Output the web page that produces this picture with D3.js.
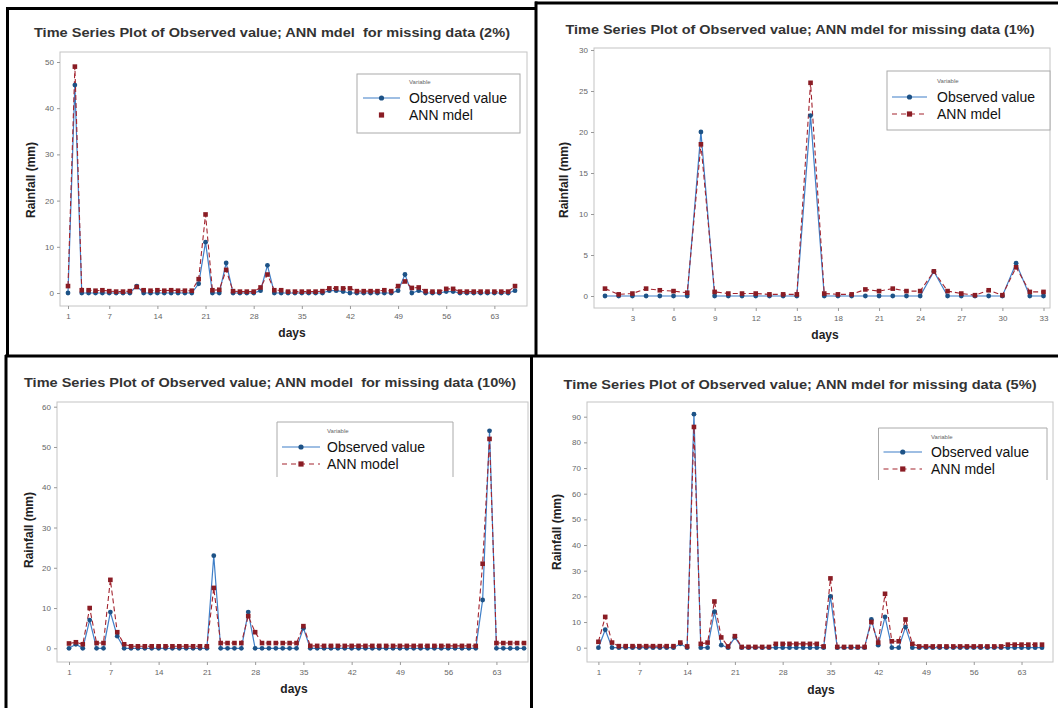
<!DOCTYPE html>
<html>
<head>
<meta charset="utf-8">
<script src="https://cdn.jsdelivr.net/npm/d3@7"></script>
<style>
  body { margin: 0; background: #fff; }
  svg { display: block; font-family: "Liberation Sans", Arial, sans-serif; }
</style>
</head>
<body>
<div id="chart"></div>
<script>
// rainfall (mm) per day
const obs2 = [0, 45, 0, 0, 0, 0, 0, 0, 0, 0, 1.5, 0, 0, 0, 0, 0, 0, 0, 0, 2,
    11, 0, 0, 6.5, 0, 0, 0, 0, 0.5, 6, 0, 0, 0, 0, 0, 0, 0, 0, 0.5, 0.5,
    0.3, 0, 0, 0, 0, 0, 0, 0, 0.5, 4, 0, 0.5, 0, 0, 0, 0.3, 0.3, 0, 0, 0,
    0, 0, 0, 0, 0, 0.5];
const ann2 = [1.5, 49, 0.6, 0.6, 0.5, 0.6, 0.4, 0.3, 0.3, 0.4, 1.3, 0.6, 0.5, 0.6, 0.5, 0.6, 0.5, 0.5, 0.5, 3,
    17, 0.6, 0.7, 5, 0.4, 0.3, 0.3, 0.3, 1.2, 4, 0.6, 0.6, 0.3, 0.3, 0.3, 0.3, 0.3, 0.4, 1, 1,
    1, 1, 0.4, 0.4, 0.4, 0.4, 0.6, 0.4, 1.5, 2.5, 1.1, 1.2, 0.4, 0.3, 0.3, 0.9, 0.9, 0.3, 0.3, 0.3,
    0.3, 0.3, 0.3, 0.3, 0.3, 1.5];

const obs1 = [0, 0, 0, 0, 0, 0, 0, 20, 0, 0, 0, 0, 0, 0, 0, 22, 0, 0, 0, 0,
    0, 0, 0, 0, 3, 0, 0, 0, 0, 0, 4, 0, 0];
const ann1 = [0.9, 0.2, 0.3, 0.9, 0.7, 0.6, 0.4, 18.5, 0.5, 0.3, 0.3, 0.3, 0.2, 0.2, 0.2, 26, 0.3, 0.2, 0.2, 0.8,
    0.6, 0.9, 0.6, 0.6, 3, 0.6, 0.3, 0.1, 0.7, 0.1, 3.5, 0.5, 0.5];

const obs10 = [0, 1, 0, 7, 0, 0, 9, 3, 0, 0, 0, 0, 0, 0, 0, 0, 0, 0, 0, 0,
    0, 23, 0, 0, 0, 0, 9, 0, 0, 0, 0, 0, 0, 0, 5, 0, 0, 0, 0, 0,
    0, 0, 0, 0, 0, 0, 0, 0, 0, 0, 0, 0, 0, 0, 0, 0, 0, 0, 0, 0,
    12, 54, 0, 0, 0, 0, 0];
const ann10 = [1.2, 1.5, 1, 10, 1.3, 1.3, 17, 4, 1, 0.5, 0.5, 0.5, 0.5, 0.5, 0.5, 0.5, 0.5, 0.5, 0.5, 0.5,
    0.5, 15, 1.3, 1.3, 1.3, 1.3, 8, 4, 1.3, 1.3, 1.3, 1.3, 1.3, 1.3, 5.5, 0.6, 0.6, 0.6, 0.6, 0.6,
    0.6, 0.6, 0.6, 0.6, 0.6, 0.6, 0.6, 0.6, 0.6, 0.6, 0.6, 0.6, 0.6, 0.6, 0.6, 0.6, 0.6, 0.6, 0.6, 0.6,
    21, 52, 1.3, 1.3, 1.3, 1.3, 1.3];

const obs5 = [0, 7, 0, 0, 0, 0, 0, 0, 0, 0, 0, 0, 1.5, 0, 91, 0, 0, 14, 1, 0,
    4, 0, 0, 0, 0, 0, 0, 0, 0, 0, 0, 0, 0, 0, 20, 0, 0, 0, 0, 0,
    11, 1, 12, 0, 0, 8, 0, 0, 0, 0, 0, 0, 0, 0, 0, 0, 0, 0, 0, 0,
    0, 0, 0, 0, 0, 0];
const ann5 = [2.3, 12, 2, 0.6, 0.6, 0.6, 0.6, 0.6, 0.6, 0.6, 0.6, 0.6, 2, 0.5, 86, 1.5, 2, 18, 4, 0.5,
    4.5, 0.3, 0.3, 0.3, 0.3, 0.3, 1.5, 1.5, 1.5, 1.5, 1.5, 1.5, 1.5, 0.5, 27, 0.3, 0.3, 0.3, 0.3, 0.3,
    10, 2, 21, 2.5, 2.5, 11, 1.5, 0.5, 0.5, 0.5, 0.5, 0.5, 0.5, 0.5, 0.5, 0.5, 0.5, 0.5, 0.5, 0.5,
    1.2, 1.2, 1.2, 1.2, 1.2, 1.2];

const dayTicksWeek = [1, 7, 14, 21, 28, 35, 42, 49, 56, 63];
const dayTicks3 = [3, 6, 9, 12, 15, 18, 21, 24, 27, 30, 33];
const rainTicks50 = [0, 10, 20, 30, 40, 50];
const rainTicks30 = [0, 5, 10, 15, 20, 25, 30];
const rainTicks60 = [0, 10, 20, 30, 40, 50, 60];
const rainTicks90 = [0, 10, 20, 30, 40, 50, 60, 70, 80, 90];

const seriesNames = ["Observed value", "ANN mdel"];

const OBS_LINE = "#3f7fc8", OBS_DOT = "#1d5286";
const ANN_LINE = "#a3242f", ANN_DOT = "#8a1c24";

const svg = d3.select("#chart").append("svg")
    .attr("width", 1058)
    .attr("height", 708);

svg.append("rect").attr("width", 1058).attr("height", 708).attr("fill", "#fff");

function panel(p) {
    const g = svg.append("g");
    const [fx0, fy0, fx1, fy1] = p.frame;

    const x = d3.scaleLinear().domain([1, p.obs.length]).range(p.xr);
    const y = d3.scaleLinear().domain([0, p.yTicks[p.yTicks.length - 1]]).range(p.yr);

    g.append("rect")
        .attr("x", fx0).attr("y", fy0)
        .attr("width", fx1 - fx0).attr("height", fy1 - fy0)
        .attr("fill", "none").attr("stroke", "#c4c4c4");

    const ya = g.append("g")
        .attr("transform", `translate(${fx0},0)`)
        .call(d3.axisLeft(y).tickValues(p.yTicks).tickSize(3).tickPadding(3));
    const xa = g.append("g")
        .attr("transform", `translate(0,${fy1})`)
        .call(d3.axisBottom(x).tickValues(p.xTicks).tickSize(3).tickPadding(4));
    [ya, xa].forEach(a => {
        a.select(".domain").remove();
        a.selectAll("line").attr("stroke", "#999");
        a.selectAll("text").attr("fill", "#666").style("font-size", "8px");
    });

    // title and axis names
    g.append("text")
        .attr("x", p.title[1]).attr("y", p.title[2])
        .attr("text-anchor", "middle")
        .attr("textLength", p.title[3]).attr("lengthAdjust", "spacingAndGlyphs")
        .style("white-space", "pre")
        .style("font-size", "13px").style("font-weight", "bold").attr("fill", "#333")
        .text(p.title[0]);
    g.append("text")
        .attr("transform", `translate(${p.ylab[0]},${p.ylab[1]}) rotate(-90)`)
        .attr("text-anchor", "middle")
        .style("font-size", "12px").style("font-weight", "bold").attr("fill", "#222")
        .text("Rainfall (mm)");
    g.append("text")
        .attr("x", p.xlab[0]).attr("y", p.xlab[1])
        .attr("text-anchor", "middle")
        .style("font-size", "12px").style("font-weight", "bold").attr("fill", "#222")
        .text("days");

    const line = d3.line().x((d, i) => x(i + 1)).y(d => y(d));

    g.append("path").datum(p.obs)
        .attr("d", line).attr("fill", "none")
        .attr("stroke", OBS_LINE).attr("stroke-width", 1.2);
    g.append("path").datum(p.ann)
        .attr("d", line).attr("fill", "none")
        .attr("stroke", ANN_LINE).attr("stroke-width", 1.1)
        .attr("stroke-dasharray", "5,3");

    g.append("g").selectAll("circle")
        .data(p.obs).join("circle")
        .attr("cx", (d, i) => x(i + 1)).attr("cy", d => y(d))
        .attr("r", 2.4).attr("fill", OBS_DOT);
    g.append("g").selectAll("rect")
        .data(p.ann).join("rect")
        .attr("x", (d, i) => x(i + 1) - 2.3).attr("y", d => y(d) - 2.3)
        .attr("width", 4.6).attr("height", 4.6).attr("fill", ANN_DOT);

    // legend
    const [lx0, ly0, lx1, ly1] = p.legend;
    const lg = g.append("g");
    if (p.legendOpen) {
        lg.append("path")
            .attr("d", `M${lx0},${ly1}V${ly0}H${lx1}V${ly1}`)
            .attr("fill", "#fff").attr("stroke", "#aaa");
    } else {
        lg.append("rect")
            .attr("x", lx0).attr("y", ly0).attr("width", lx1 - lx0).attr("height", ly1 - ly0)
            .attr("fill", "#fff").attr("stroke", "#aaa");
    }
    lg.append("text")
        .attr("x", p.legText).attr("y", p.legRows[0] + 2)
        .style("font-size", "6px").attr("fill", "#666")
        .text("Variable");
    const [sx0, sx1] = p.legSym, sxm = (sx0 + sx1) / 2;
    // observed
    lg.append("line")
        .attr("x1", sx0).attr("x2", sx1).attr("y1", p.legRows[1]).attr("y2", p.legRows[1])
        .attr("stroke", OBS_LINE).attr("stroke-width", 1.2);
    lg.append("circle").attr("cx", sxm).attr("cy", p.legRows[1]).attr("r", 2.6).attr("fill", OBS_DOT);
    // ann
    if (!p.annDotOnly) {
        lg.append("line")
            .attr("x1", sx0).attr("x2", sx1).attr("y1", p.legRows[2]).attr("y2", p.legRows[2])
            .attr("stroke", ANN_LINE).attr("stroke-width", 1.1).attr("stroke-dasharray", "5,4");
    }
    lg.append("rect").attr("x", sxm - 2.6).attr("y", p.legRows[2] - 2.6)
        .attr("width", 5.2).attr("height", 5.2).attr("fill", ANN_DOT);
    [p.names[0], p.names[1]].forEach((t, i) => {
        lg.append("text")
            .attr("x", p.legText).attr("y", p.legRows[i + 1] + 5)
            .style("font-size", "14px").attr("fill", "#111")
            .text(t);
    });
}

panel({
    obs: obs2, ann: ann2,
    frame: [60, 52, 527, 306], xr: [68, 515], yr: [293, 62],
    xTicks: dayTicksWeek, yTicks: rainTicks50,
    title: ["Time Series Plot of Observed value; ANN mdel  for missing data (2%)", 272, 37, 476],
    ylab: [35, 180], xlab: [292, 337],
    legend: [357, 74, 520, 133], legendOpen: false, annDotOnly: true,
    legText: 409, legRows: [82, 98, 115], legSym: [363, 400],
    names: seriesNames
});

panel({
    obs: obs1, ann: ann1,
    frame: [594, 48, 1050, 308], xr: [605, 1043.5], yr: [296, 50],
    xTicks: dayTicks3, yTicks: rainTicks30,
    title: ["Time Series Plot of Observed value; ANN mdel for missing data (1%)", 800, 34, 469],
    ylab: [568, 180], xlab: [825, 339],
    legend: [887, 71, 1050, 130], legendOpen: false, annDotOnly: false,
    legText: 937, legRows: [81, 97, 114], legSym: [892, 927],
    names: seriesNames
});

panel({
    obs: obs10, ann: ann10,
    frame: [57, 402, 528, 662], xr: [69, 524], yr: [648.3, 406.7],
    xTicks: dayTicksWeek, yTicks: rainTicks60,
    title: ["Time Series Plot of Observed value; ANN model  for missing data (10%)", 270, 387, 492],
    ylab: [33, 530], xlab: [294, 693],
    legend: [277, 422, 453, 477], legendOpen: true, annDotOnly: false,
    legText: 327, legRows: [431, 447, 464], legSym: [282, 320],
    names: ["Observed value", "ANN model"]
});

panel({
    obs: obs5, ann: ann5,
    frame: [587, 402, 1053, 662], xr: [598.4, 1042], yr: [647.7, 416.7],
    xTicks: dayTicksWeek, yTicks: rainTicks90,
    title: ["Time Series Plot of Observed value; ANN mdel for missing data (5%)", 800, 389, 473],
    ylab: [561, 532], xlab: [821, 694],
    legend: [878.5, 428, 1047, 480], legendOpen: true, annDotOnly: false,
    legText: 931, legRows: [437, 452, 469], legSym: [883.5, 922],
    names: seriesNames
});

// black borders of the four pasted panels
const borders = [
    [6, 8.5, 537, 8.5], [7.5, 7, 7.5, 357], [536, 1.5, 536, 357], [535, 3, 1058, 3],
    [5, 356, 1058, 356], [6, 355, 6, 708], [531.5, 355, 531.5, 708]
];
svg.append("g").selectAll("line")
    .data(borders).join("line")
    .attr("x1", d => d[0]).attr("y1", d => d[1])
    .attr("x2", d => d[2]).attr("y2", d => d[3])
    .attr("stroke", "#000").attr("stroke-width", 3);
</script>
</body>
</html>
